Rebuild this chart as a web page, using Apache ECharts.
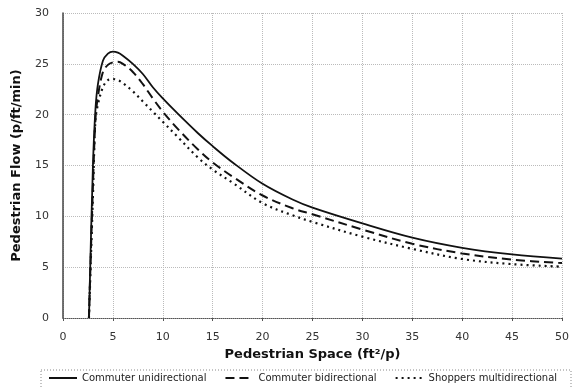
<!DOCTYPE html>
<html>
<head>
<meta charset="utf-8">
<script src="https://cdn.jsdelivr.net/npm/echarts@6/dist/echarts.min.js"></script>
<style>
    html, body { margin: 0; padding: 0; background: #fff; }
    #chart { width: 572px; height: 387px; }
</style>
</head>
<body>
<div id="chart"></div>
<script>
var space = [2.6, 3, 3.25, 3.5, 4, 4.5, 5, 5.5, 6, 7, 8, 9, 10, 11.5, 13.5, 15, 17, 20, 23, 25, 30, 35, 40, 45, 50];
var commuterUni = [0, 15, 20.5, 23.0, 25.3, 26.0, 26.2, 26.1, 25.8, 25.0, 24.0, 22.7, 21.6, 20.1, 18.2, 16.9, 15.3, 13.2, 11.65, 10.85, 9.3, 7.9, 6.9, 6.25, 5.85];
var commuterBi = [0, 13, 19.5, 21.8, 24.2, 24.9, 25.15, 25.2, 25.0, 24.2, 23.0, 21.6, 20.3, 18.6, 16.6, 15.3, 13.9, 12.05, 10.8, 10.2, 8.7, 7.3, 6.35, 5.75, 5.4];
var shoppersMulti = [0, 12, 19.5, 21.0, 22.7, 23.4, 23.5, 23.4, 23.1, 22.3, 21.3, 20.3, 19.3, 17.8, 15.8, 14.6, 13.3, 11.3, 10.1, 9.45, 8.0, 6.8, 5.8, 5.3, 5.05];
var seriesNames = ['Commuter unidirectional', 'Commuter bidirectional', 'Shoppers multidirectional'];

function pairs(ys) {
    var out = [];
    for (var i = 0; i < space.length; i++) {
        out.push([space[i], ys[i]]);
    }
    return out;
}

var chart = echarts.init(document.getElementById('chart'));

var font = 'DejaVu Sans';

function makeSeries(name, ys, type, width) {
    return {
        name: name,
        type: 'line',
        data: pairs(ys),
        smooth: 0.35,
        symbol: 'none',
        lineStyle: { color: '#111', width: width, type: type },
        itemStyle: { color: '#111' }
    };
}

var option = {
    animation: false,
    backgroundColor: '#fff',
    textStyle: { fontFamily: font },
    grid: { left: 63, right: 4, top: 13, bottom: 69 },
    xAxis: {
        type: 'value',
        min: 0,
        max: 50,
        interval: 5,
        name: 'Pedestrian Space (ft\u00b2/p)',
        nameLocation: 'middle',
        nameGap: 28,
        nameTextStyle: { fontFamily: font, fontWeight: 'bold', fontSize: 13, color: '#111' },
        axisLine: { lineStyle: { color: '#555', type: 'dotted', width: 1 } },
        axisTick: { show: true, length: 3, lineStyle: { color: '#555' } },
        axisLabel: { color: '#333', fontSize: 11, margin: 14, fontFamily: font },
        splitLine: { show: true, lineStyle: { color: '#bbb', type: 'dotted', width: 1 } }
    },
    yAxis: {
        type: 'value',
        min: 0,
        max: 30,
        interval: 5,
        name: 'Pedestrian Flow (p/ft/min)',
        nameLocation: 'middle',
        nameGap: 40,
        nameTextStyle: { fontFamily: font, fontWeight: 'bold', fontSize: 13, color: '#111' },
        axisLine: { show: true, lineStyle: { color: '#444', width: 1.5 } },
        axisTick: { show: false },
        axisLabel: { color: '#333', fontSize: 11, margin: 14, fontFamily: font },
        splitLine: { show: true, lineStyle: { color: '#bbb', type: 'dotted', width: 1 } }
    },
    legend: {
        data: seriesNames,
        left: 46,
        top: 371,
        itemWidth: 28,
        itemHeight: 10,
        itemGap: 18,
        padding: 2,
        itemStyle: { opacity: 0 },
        textStyle: { fontFamily: font, fontSize: 10, color: '#222' }
    },
    graphic: [{
        type: 'rect',
        shape: { x: 41, y: 370, width: 530, height: 20 },
        style: { fill: 'none', stroke: '#888', lineWidth: 1, lineDash: [1, 2] },
        silent: true
    }],
    series: [
        makeSeries(seriesNames[0], commuterUni, 'solid', 1.8),
        makeSeries(seriesNames[1], commuterBi, [9, 5], 2),
        makeSeries(seriesNames[2], shoppersMulti, [2, 4], 2.2)
    ]
};

chart.setOption(option);
</script>
</body>
</html>
